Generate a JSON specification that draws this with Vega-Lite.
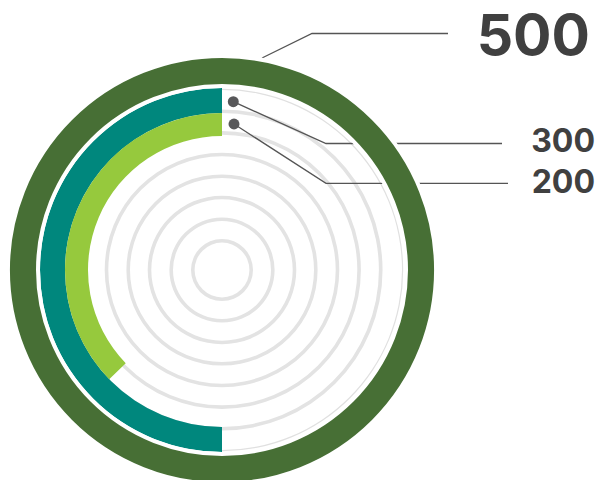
{
  "$schema": "https://vega.github.io/schema/vega-lite/v6.json",
  "width": 600,
  "height": 480,
  "autosize": {"type": "none"},
  "padding": 0,
  "background": "white",
  "config": {"view": {"stroke": null}},
  "datasets": {
    "series": [
      {"ring": "outer", "value": 500},
      {"ring": "middle", "value": 300},
      {"ring": "inner", "value": 200}
    ],
    "grid": [{"track": "grid"}],
    "leaders": [
      {"series": "500", "step": 0, "x": 40, "y": 212},
      {"series": "500", "step": 1, "x": 90, "y": 236.5},
      {"series": "500", "step": 2, "x": 226, "y": 236.5},
      {"series": "300", "step": 0, "x": 11.3, "y": 168.3},
      {"series": "300", "step": 1, "x": 104, "y": 126.5},
      {"series": "300", "step": 2, "x": 280, "y": 126.5},
      {"series": "200", "step": 0, "x": 12, "y": 146},
      {"series": "200", "step": 1, "x": 104, "y": 86.7},
      {"series": "200", "step": 2, "x": 286, "y": 86.7}
    ],
    "labels": [
      {"value": 500, "x": 368, "y": 215},
      {"value": 300, "x": 373, "y": 118},
      {"value": 200, "x": 373, "y": 76.7}
    ]
  },
  "layer": [
    {"data": {"name": "grid"}, "mark": {"type": "arc", "radius": 31, "radius2": 27.4, "theta": 0, "theta2": 6.2832, "color": "#e3e3e3"},
     "encoding": {"x": {"datum": 0, "type": "quantitative", "scale": {"domain": [-222, 378], "nice": false, "zero": false}, "axis": null}, "y": {"datum": 0, "type": "quantitative", "scale": {"domain": [-210, 270], "nice": false, "zero": false}, "axis": null}}},
    {"data": {"name": "grid"}, "mark": {"type": "arc", "radius": 52.6, "radius2": 49, "theta": 0, "theta2": 6.2832, "color": "#e3e3e3"},
     "encoding": {"x": {"datum": 0, "type": "quantitative", "scale": {"domain": [-222, 378], "nice": false, "zero": false}, "axis": null}, "y": {"datum": 0, "type": "quantitative", "scale": {"domain": [-210, 270], "nice": false, "zero": false}, "axis": null}}},
    {"data": {"name": "grid"}, "mark": {"type": "arc", "radius": 74.3, "radius2": 70.7, "theta": 0, "theta2": 6.2832, "color": "#e3e3e3"},
     "encoding": {"x": {"datum": 0, "type": "quantitative", "scale": {"domain": [-222, 378], "nice": false, "zero": false}, "axis": null}, "y": {"datum": 0, "type": "quantitative", "scale": {"domain": [-210, 270], "nice": false, "zero": false}, "axis": null}}},
    {"data": {"name": "grid"}, "mark": {"type": "arc", "radius": 95.6, "radius2": 92, "theta": 0, "theta2": 6.2832, "color": "#e3e3e3"},
     "encoding": {"x": {"datum": 0, "type": "quantitative", "scale": {"domain": [-222, 378], "nice": false, "zero": false}, "axis": null}, "y": {"datum": 0, "type": "quantitative", "scale": {"domain": [-210, 270], "nice": false, "zero": false}, "axis": null}}},
    {"data": {"name": "grid"}, "mark": {"type": "arc", "radius": 117.3, "radius2": 113.7, "theta": 0, "theta2": 6.2832, "color": "#e3e3e3"},
     "encoding": {"x": {"datum": 0, "type": "quantitative", "scale": {"domain": [-222, 378], "nice": false, "zero": false}, "axis": null}, "y": {"datum": 0, "type": "quantitative", "scale": {"domain": [-210, 270], "nice": false, "zero": false}, "axis": null}}},
    {"data": {"name": "grid"}, "mark": {"type": "arc", "radius": 138.9, "radius2": 135.3, "theta": 0, "theta2": 6.2832, "color": "#e3e3e3"},
     "encoding": {"x": {"datum": 0, "type": "quantitative", "scale": {"domain": [-222, 378], "nice": false, "zero": false}, "axis": null}, "y": {"datum": 0, "type": "quantitative", "scale": {"domain": [-210, 270], "nice": false, "zero": false}, "axis": null}}},
    {"data": {"name": "grid"}, "mark": {"type": "arc", "radius": 160.5, "radius2": 156.9, "theta": 0, "theta2": 6.2832, "color": "#e3e3e3"},
     "encoding": {"x": {"datum": 0, "type": "quantitative", "scale": {"domain": [-222, 378], "nice": false, "zero": false}, "axis": null}, "y": {"datum": 0, "type": "quantitative", "scale": {"domain": [-210, 270], "nice": false, "zero": false}, "axis": null}}},
    {"data": {"name": "grid"}, "mark": {"type": "arc", "radius": 181.2, "radius2": 180, "theta": 0, "theta2": 6.2832, "color": "#e0e0e0"},
     "encoding": {"x": {"datum": 0, "type": "quantitative", "scale": {"domain": [-222, 378], "nice": false, "zero": false}, "axis": null}, "y": {"datum": 0, "type": "quantitative", "scale": {"domain": [-210, 270], "nice": false, "zero": false}, "axis": null}}},
    {
      "data": {"name": "leaders"},
      "mark": {"type": "line", "color": "#555555", "strokeWidth": 1.3},
      "encoding": {
        "x": {"field": "x", "type": "quantitative", "scale": {"domain": [-222, 378], "nice": false, "zero": false}, "axis": null},
        "y": {"field": "y", "type": "quantitative", "scale": {"domain": [-210, 270], "nice": false, "zero": false}, "axis": null},
        "detail": {"field": "series"},
        "order": {"field": "step", "type": "quantitative"}
      }
    },
    {
      "data": {"name": "leaders"},
      "transform": [{"filter": "datum.step == 0 && datum.series != '500'"}],
      "mark": {"type": "point", "filled": true, "color": "#58585a", "opacity": 1, "size": 120},
      "encoding": {
        "x": {"field": "x", "type": "quantitative", "scale": {"domain": [-222, 378], "nice": false, "zero": false}, "axis": null},
        "y": {"field": "y", "type": "quantitative", "scale": {"domain": [-210, 270], "nice": false, "zero": false}, "axis": null}
      }
    },
    {
      "data": {"name": "series"},
      "transform": [{"filter": "datum.ring == 'middle'"}],
      "mark": {"type": "arc", "radius": 182, "radius2": 157, "color": "#00877d"},
      "encoding": {
        "x": {"datum": 0, "type": "quantitative", "scale": {"domain": [-222, 378], "nice": false, "zero": false}, "axis": null},
        "y": {"datum": 0, "type": "quantitative", "scale": {"domain": [-210, 270], "nice": false, "zero": false}, "axis": null},
        "theta": {"field": "value", "type": "quantitative", "stack": null, "scale": {"domain": [0, 600], "range": [6.2832, 0]}},
        "theta2": {"datum": 0}
      }
    },
    {
      "data": {"name": "series"},
      "transform": [{"filter": "datum.ring == 'inner'"}],
      "mark": {"type": "arc", "radius": 157, "radius2": 134, "color": "#96c93d"},
      "encoding": {
        "x": {"datum": 0, "type": "quantitative", "scale": {"domain": [-222, 378], "nice": false, "zero": false}, "axis": null},
        "y": {"datum": 0, "type": "quantitative", "scale": {"domain": [-210, 270], "nice": false, "zero": false}, "axis": null},
        "theta": {"field": "value", "type": "quantitative", "stack": null, "scale": {"domain": [0, 537], "range": [6.2832, 0]}},
        "theta2": {"datum": 0}
      }
    },
    {
      "data": {"name": "series"},
      "transform": [{"filter": "datum.ring == 'outer'"}],
      "mark": {"type": "arc", "radius": 214, "radius2": 184, "color": "#476f35", "stroke": "white", "strokeWidth": 4},
      "encoding": {
        "x": {"datum": 0, "type": "quantitative", "scale": {"domain": [-222, 378], "nice": false, "zero": false}, "axis": null},
        "y": {"datum": 0, "type": "quantitative", "scale": {"domain": [-210, 270], "nice": false, "zero": false}, "axis": null},
        "theta": {"field": "value", "type": "quantitative", "stack": null, "scale": {"domain": [0, 500], "range": [0, 6.2832]}},
        "theta2": {"datum": 0}
      }
    },
    {
      "data": {"name": "labels"},
      "mark": {"type": "text", "align": "right", "baseline": "alphabetic", "font": "Inter", "fontWeight": "bold", "color": "#404040"},
      "encoding": {
        "x": {"field": "x", "type": "quantitative", "scale": {"domain": [-222, 378], "nice": false, "zero": false}, "axis": null},
        "y": {"field": "y", "type": "quantitative", "scale": {"domain": [-210, 270], "nice": false, "zero": false}, "axis": null},
        "text": {"field": "value", "type": "quantitative"},
        "size": {"condition": {"test": "datum.value == 500", "value": 57}, "value": 32}
      }
    }
  ],
  "resolve": {"scale": {"theta": "independent"}}
}
